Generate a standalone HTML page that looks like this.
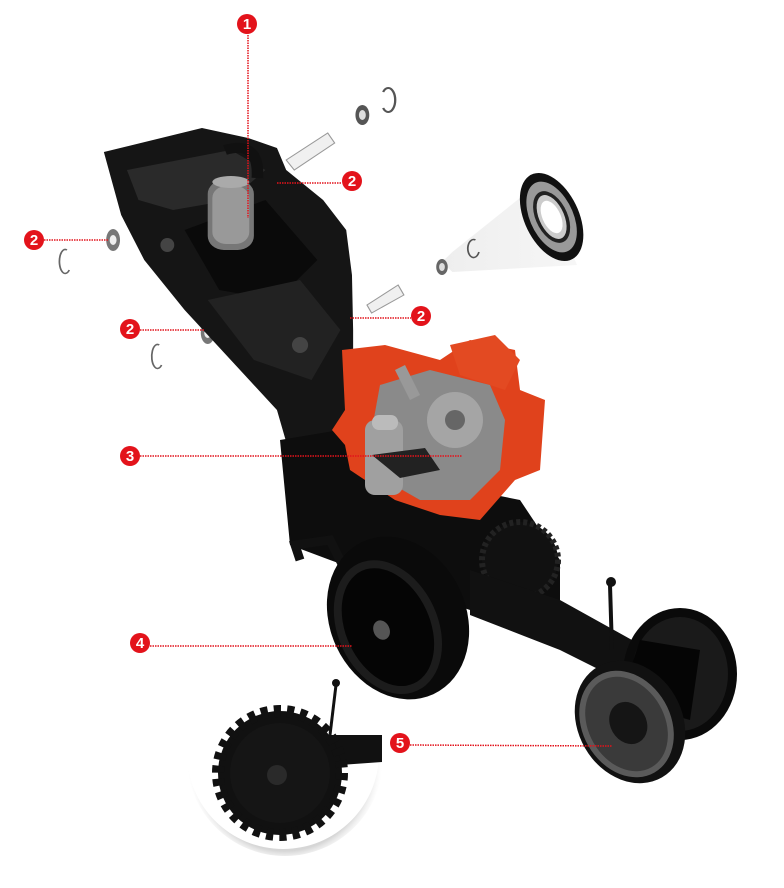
<!DOCTYPE html>
<html><head><meta charset="utf-8"><style>
html,body{margin:0;padding:0;background:#fff;}
svg{display:block;}
text{font-family:"Liberation Sans",sans-serif;font-weight:bold;fill:#fff;}
</style></head><body>
<svg width="784" height="888" viewBox="0 0 784 888" xmlns="http://www.w3.org/2000/svg">
<defs>
<radialGradient id="sh" cx="50%" cy="55%" r="50%">
<stop offset="85%" stop-color="#bbb" stop-opacity="0.6"/><stop offset="100%" stop-color="#fff" stop-opacity="0"/>
</radialGradient>
<linearGradient id="cone" x1="0" y1="0" x2="1" y2="0">
<stop offset="0" stop-color="#eee"/><stop offset="1" stop-color="#f6f6f6"/></linearGradient>
</defs>

<g transform="scale(1.154,1)">
<!-- cone to bearing -->
<polygon points="383,262 392,252 470,180 500,265 392,272" fill="url(#cone)"/>
<g transform="rotate(-20 478 217)">
<ellipse cx="478" cy="217" rx="24" ry="46" fill="#111"/>
<ellipse cx="478" cy="217" rx="19" ry="37" fill="#999"/>
<ellipse cx="478" cy="217" rx="14" ry="27" fill="#222"/>
<ellipse cx="478" cy="217" rx="11" ry="23" fill="#ccc"/>
<ellipse cx="478" cy="217" rx="8" ry="17" fill="#fff"/>
</g>
<ellipse cx="314" cy="115" rx="6" ry="10" fill="#555"/><ellipse cx="314" cy="115" rx="3" ry="5" fill="#ddd"/>
<path d="M332,92 a6,12 0 1 1 0,16" stroke="#555" stroke-width="2" fill="none"/>
<polygon points="248,160 284,133 290,143 255,170" fill="#f0f0f0" stroke="#999" stroke-width="1"/>
<polygon points="318,305 345,285 350,295 322,313" fill="#f0f0f0" stroke="#999" stroke-width="1"/>
<ellipse cx="383" cy="267" rx="5" ry="8" fill="#666"/><ellipse cx="383" cy="267" rx="2.5" ry="4" fill="#ddd"/>
<path d="M412,240 a5,9 0 1 0 3,12" stroke="#555" stroke-width="1.5" fill="none"/>
<ellipse cx="98" cy="240" rx="6" ry="11" fill="#777"/><ellipse cx="98" cy="240" rx="3" ry="5" fill="#eee"/>
<path d="M58,250 a5,12 0 1 0 2,20" stroke="#666" stroke-width="1.5" fill="none"/>
<ellipse cx="180" cy="333" rx="6" ry="11" fill="#777"/><ellipse cx="180" cy="333" rx="3" ry="5" fill="#eee"/>
<path d="M138,345 a5,12 0 1 0 2,20" stroke="#666" stroke-width="1.5" fill="none"/>

<!-- main frame -->
<polygon points="90,152 175,128 215,138 240,148 248,170 280,200 300,230 305,275 306,330 306,430 298,460 300,540 270,545 255,500 250,450 240,410 200,360 160,310 125,260 105,215" fill="#151515"/>
<polygon points="110,170 200,150 230,170 200,200 150,210 120,200" fill="#2a2a2a"/>
<polygon points="160,230 230,200 275,260 240,300 190,290" fill="#0a0a0a"/>
<polygon points="180,300 260,280 295,330 270,380 220,360" fill="#222"/>
<ellipse cx="145" cy="245" rx="6" ry="7" fill="#444"/><ellipse cx="260" cy="345" rx="7" ry="8" fill="#444"/>
<rect x="180" y="180" width="40" height="70" rx="14" fill="#777"/>
<rect x="184" y="186" width="32" height="58" rx="12" fill="#999"/>
<ellipse cx="200" cy="182" rx="16" ry="6" fill="#aaa"/>
<path d="M195,150 q30,-10 28,28" stroke="#111" stroke-width="10" fill="none"/>
</g>

<!-- lower black mass -->
<polygon points="280,440 340,430 420,480 520,500 560,560 560,610 500,620 440,600 330,560 290,545" fill="#0d0d0d"/>
<circle cx="520" cy="560" r="38" fill="#111" stroke="#222" stroke-width="6" stroke-dasharray="4 3"/>
<polygon points="470,570 560,600 650,650 640,690 560,650 470,615" fill="#111"/>
<line x1="610" y1="585" x2="612" y2="650" stroke="#111" stroke-width="4"/>
<circle cx="611" cy="582" r="5" fill="#111"/>
<polyline points="300,560 295,545 330,540 380,640" stroke="#111" stroke-width="9" fill="none"/>
<g transform="rotate(-25 398 618)">
<ellipse cx="398" cy="618" rx="68" ry="84" fill="#0a0a0a"/>
<ellipse cx="385" cy="622" rx="50" ry="70" fill="#1c1c1c"/>
<ellipse cx="385" cy="622" rx="42" ry="62" fill="#050505"/>
<ellipse cx="378" cy="622" rx="8" ry="10" fill="#555"/>
</g>
<ellipse cx="680" cy="674" rx="57" ry="66" fill="#0a0a0a"/>
<ellipse cx="680" cy="674" rx="48" ry="57" fill="#1a1a1a"/>
<polygon points="640,640 700,650 690,720 620,700" fill="#050505"/>
<g transform="rotate(-30 630 722)">
<ellipse cx="630" cy="722" rx="52" ry="64" fill="#111"/>
<ellipse cx="626" cy="722" rx="44" ry="56" fill="#5a5a5a"/>
<ellipse cx="626" cy="722" rx="38" ry="50" fill="#3a3a3a"/>
<ellipse cx="628" cy="722" rx="18" ry="22" fill="#151515"/>
</g>

<!-- red meter frame -->
<polygon points="342,350 385,345 440,360 470,340 515,350 520,390 545,400 540,470 515,480 480,520 440,515 395,500 350,470 345,445 332,430 345,410" fill="#e0421c"/>
<polygon points="380,385 430,370 490,385 505,420 500,470 470,500 420,500 385,480 370,440" fill="#8a8a8a"/>
<circle cx="455" cy="420" r="28" fill="#a5a5a5"/>
<circle cx="455" cy="420" r="10" fill="#666"/>
<rect x="365" y="420" width="38" height="75" rx="10" fill="#a0a0a0"/>
<rect x="372" y="415" width="26" height="15" rx="7" fill="#bbb"/>
<polygon points="395,370 405,365 420,395 410,400" fill="#999"/>
<polygon points="450,345 495,335 520,360 505,390 460,375" fill="#e34a22"/>
<polygon points="372,455 425,448 440,470 400,478" fill="#222"/>

<!-- inset -->
<circle cx="285" cy="758" r="98" fill="url(#sh)"/>
<circle cx="283" cy="753" r="96" fill="#fff"/>
<polygon points="320,735 382,735 382,762 340,765" fill="#111"/>
<line x1="336" y1="685" x2="330" y2="735" stroke="#111" stroke-width="3"/>
<circle cx="336" cy="683" r="4" fill="#111"/>
<circle cx="280" cy="773" r="62" fill="#111" stroke="#111" stroke-width="12" stroke-dasharray="7 6"/>
<circle cx="280" cy="773" r="50" fill="#151515"/>
<circle cx="277" cy="775" r="10" fill="#2a2a2a"/>

<!-- leader lines -->
<g stroke="#e3131b" stroke-width="1.5" stroke-dasharray="1.5 1" fill="none">
<line x1="248" y1="35" x2="248" y2="218"/>
<line x1="277" y1="183" x2="342" y2="183"/>
<line x1="44" y1="240" x2="108" y2="240"/>
<line x1="140" y1="330" x2="204" y2="330"/>
<line x1="350" y1="318" x2="411" y2="318"/>
<line x1="140" y1="456" x2="462" y2="456"/>
<line x1="150" y1="646" x2="352" y2="646"/>
<line x1="410" y1="745" x2="612" y2="746"/>
</g>
<g fill="#e3131b">
<circle cx="247" cy="24" r="10"/><circle cx="352" cy="181" r="10"/><circle cx="34" cy="240" r="10"/>
<circle cx="130" cy="329" r="10"/><circle cx="421" cy="316" r="10"/><circle cx="130" cy="456" r="10"/>
<circle cx="140" cy="643" r="10"/><circle cx="400" cy="743" r="10"/>
</g>
<g font-size="15" text-anchor="middle">
<text x="247" y="29">1</text><text x="352" y="186">2</text><text x="34" y="245">2</text>
<text x="130" y="334">2</text><text x="421" y="321">2</text><text x="130" y="461">3</text>
<text x="140" y="648">4</text><text x="400" y="748">5</text>
</g>
</svg>
</body></html>
